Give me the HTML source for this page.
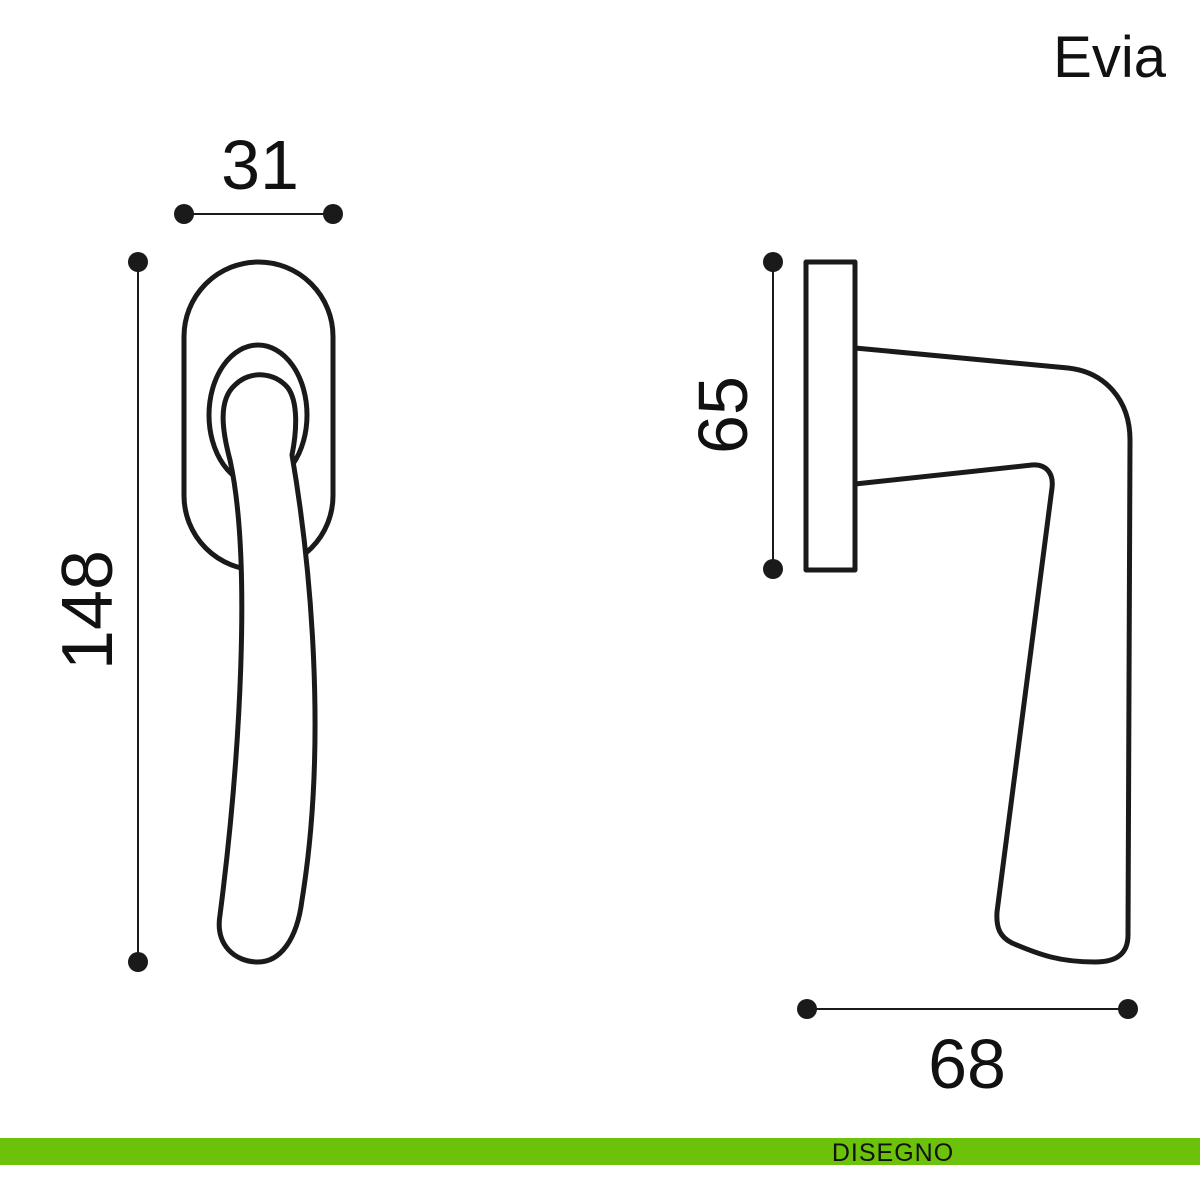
<!DOCTYPE html>
<html><head><meta charset="utf-8"><style>
html,body{margin:0;padding:0;background:#fff;}
svg{display:block;}
text{font-family:"Liberation Sans",sans-serif;fill:#111;}
</style></head><body>
<svg width="1200" height="1200" viewBox="0 0 1200 1200" xmlns="http://www.w3.org/2000/svg">
<rect width="1200" height="1200" fill="#fff"/>
<text x="1166" y="77" font-size="58" text-anchor="end">Evia</text>
<g stroke="#1a1a1a" stroke-width="5" fill="none" stroke-linejoin="round">
  <rect x="184" y="262" width="149" height="308" rx="74.5" ry="74.5" fill="#fff"/>
  <ellipse cx="258" cy="415" rx="49" ry="70"/>
  <path d="M230 460 C222 430 218 400 235 385 C250 370 275 372 288 388 C298 402 297 430 292 455 C310 560 328 740 302 900 C297 940 280 962 258 962 C235 962 215 945 220 915 C240 760 252 560 230 460 Z" fill="#fff"/>
  <rect x="806" y="262" width="49" height="308"/>
  <path d="M855 348 L1068 368 C1105 372 1130 400 1130 440 L1128 935 C1128 955 1115 962 1095 962 C1060 962 1040 955 1012 943 C1000 937 996 928 997 912 L1052 488 C1054 472 1045 464 1032 465 L855 484"/>
  <line x1="184" y1="214" x2="333" y2="214" stroke-width="2"/>
  <line x1="138" y1="262" x2="138" y2="962" stroke-width="2"/>
  <line x1="773" y1="262" x2="773" y2="569" stroke-width="2"/>
  <line x1="807" y1="1009" x2="1128" y2="1009" stroke-width="2"/>
</g>
<g fill="#1a1a1a">
  <circle cx="184" cy="214" r="10"/><circle cx="333" cy="214" r="10"/>
  <circle cx="138" cy="262" r="10"/><circle cx="138" cy="962" r="10"/>
  <circle cx="773" cy="262" r="10"/><circle cx="773" cy="569" r="10"/>
  <circle cx="807" cy="1009" r="10"/><circle cx="1128" cy="1009" r="10"/>
</g>
<text x="260" y="189" font-size="70" text-anchor="middle">31</text>
<text transform="translate(112,610) rotate(-90)" font-size="72" text-anchor="middle">148</text>
<text transform="translate(747,415) rotate(-90)" font-size="70" text-anchor="middle">65</text>
<text x="967" y="1088" font-size="70" text-anchor="middle">68</text>
<rect x="0" y="1138" width="1200" height="27" fill="#6cc20a"/>
<text x="893" y="1161" font-size="25" text-anchor="middle" fill="#1a1a1a" letter-spacing="1">DISEGNO</text>
</svg>
</body></html>
